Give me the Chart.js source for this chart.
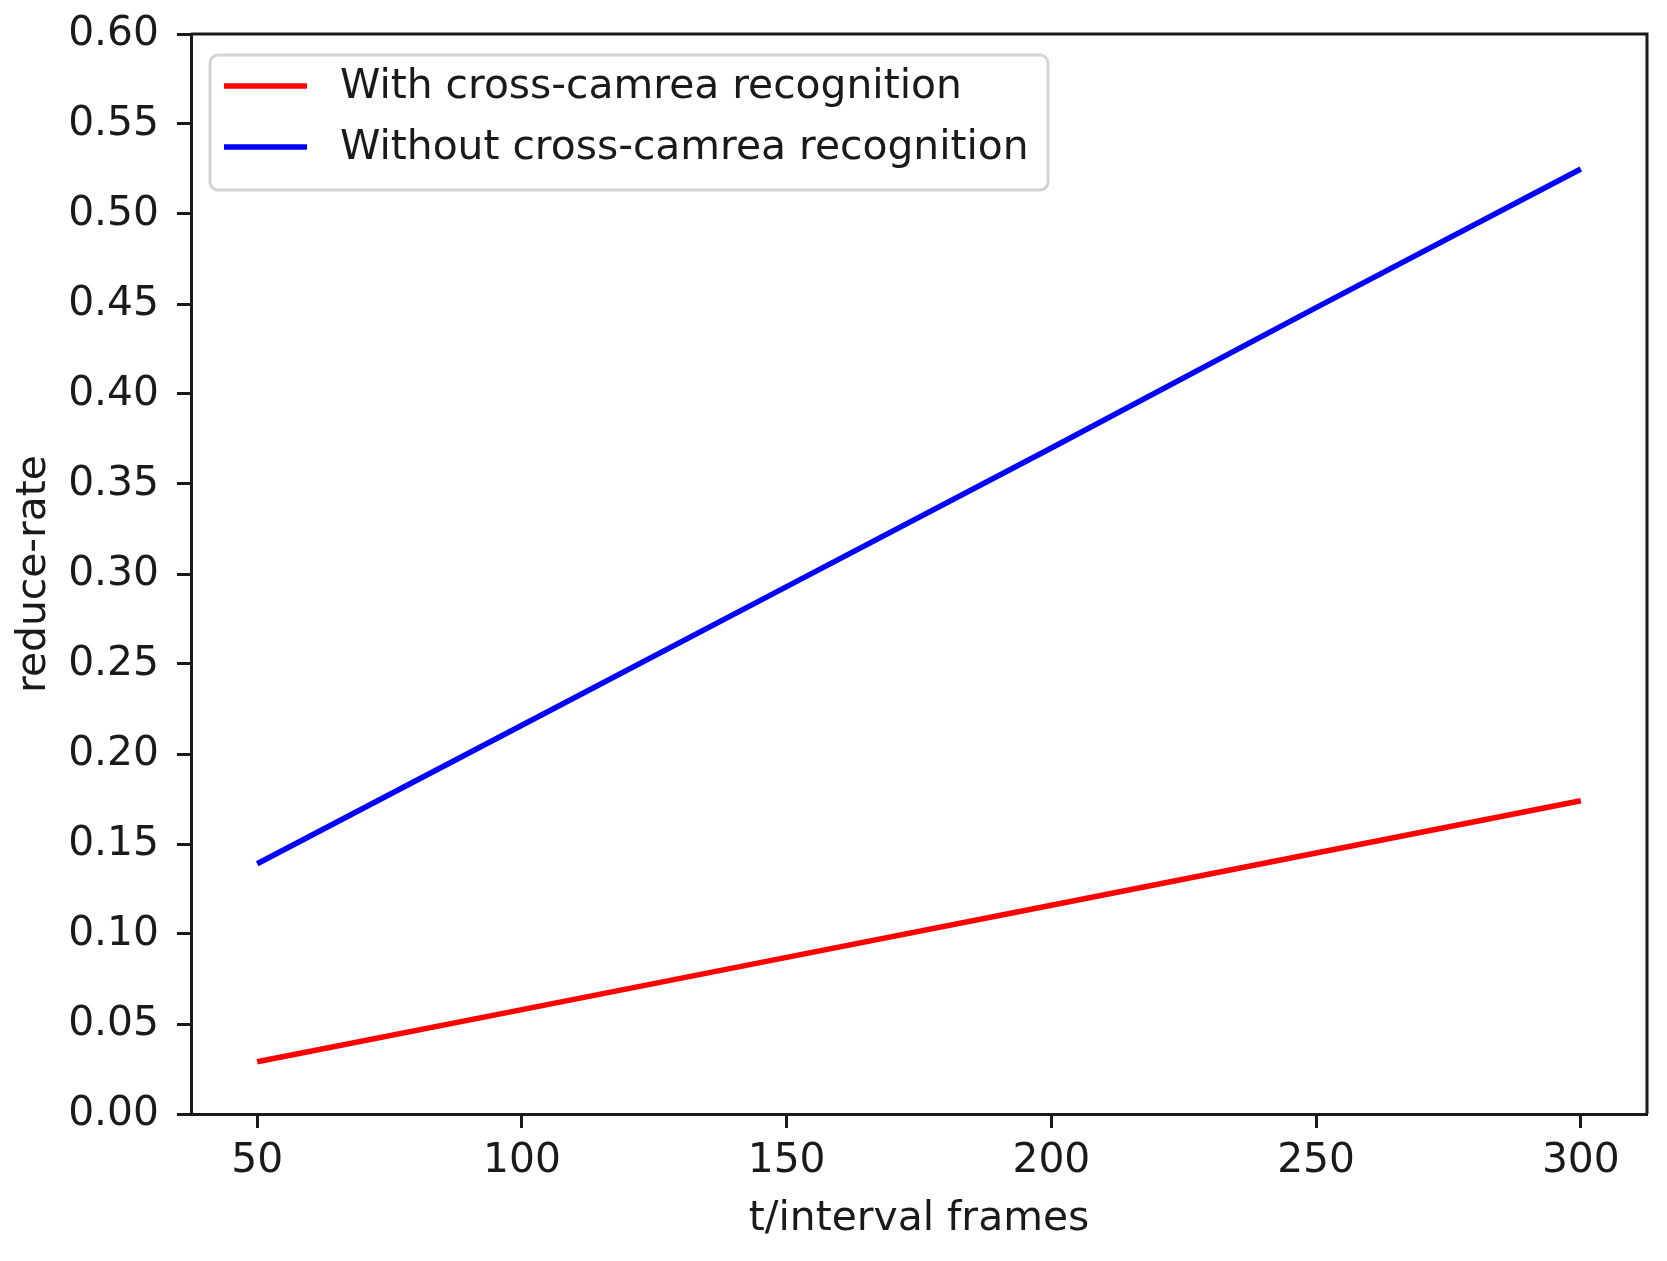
<!DOCTYPE html>
<html>
<head>
<meta charset="utf-8">
<script src="https://cdn.jsdelivr.net/npm/chart.js@4.4.1/dist/chart.umd.min.js"></script>
<style>
  html, body { margin: 0; padding: 0; background: #fff; }
  #wrap { width: 1667px; height: 1261px; }
</style>
</head>
<body>
<div id="wrap"><canvas id="chart"></canvas></div>
<script>
// valores
const frames = [50, 100, 150, 200, 250, 300]
const withCross = [0.029, 0.058, 0.087, 0.116, 0.145, 0.174]
const withoutCross = [0.139, 0.216, 0.293, 0.370, 0.448, 0.525]
const xTicks = [50, 100, 150, 200, 250, 300]
const yTicks = [0, 0.05, 0.1, 0.15, 0.2, 0.25, 0.3, 0.35, 0.4, 0.45, 0.5, 0.55, 0.6]
const seriesNames = ["With cross-camrea recognition", "Without cross-camrea recognition"]

const FONT = "'DejaVu Sans', sans-serif"
const INK = "#1a1a1a"

// top + right spines, like matplotlib's closed box
const frameBox = {
  id: "frameBox",
  afterDatasetsDraw(chart) {
    const { ctx, chartArea: a } = chart
    ctx.save()
    ctx.strokeStyle = INK
    ctx.lineWidth = 3
    ctx.beginPath()
    ctx.moveTo(a.left, a.top)
    ctx.lineTo(a.right, a.top)
    ctx.lineTo(a.right, a.bottom)
    ctx.stroke()
    ctx.restore()
  },
}

// legend inside the plot, upper left
const legendBox = {
  id: "legendBox",
  afterDraw(chart) {
    const { ctx, chartArea: a } = chart
    const x = a.left + 19
    const y = a.top + 21
    ctx.save()
    ctx.beginPath()
    ctx.roundRect(x, y, 838, 135, 8)
    ctx.fillStyle = "rgba(255,255,255,0.8)"
    ctx.fill()
    ctx.strokeStyle = "#d4d4d4"
    ctx.lineWidth = 3
    ctx.stroke()
    chart.data.datasets.forEach((ds, i) => {
      const cy = y + 31 + i * 61
      ctx.strokeStyle = ds.borderColor
      ctx.lineWidth = ds.borderWidth
      ctx.beginPath()
      ctx.moveTo(x + 14, cy)
      ctx.lineTo(x + 97, cy)
      ctx.stroke()
      ctx.fillStyle = INK
      ctx.font = `40.8px ${FONT}`
      ctx.textBaseline = "middle"
      ctx.textAlign = "left"
      ctx.fillText(ds.label, x + 130, cy + 1)
    })
    ctx.restore()
  },
}

const ctx = document.getElementById("chart").getContext("2d")

new Chart(ctx, {
  type: "line",
  data: {
    datasets: [
      {
        label: seriesNames[0],
        data: frames.map((f, i) => ({ x: f, y: withCross[i] })),
        borderColor: "#ff0000",
        borderWidth: 5.5,
        pointRadius: 0,
        tension: 0,
      },
      {
        label: seriesNames[1],
        data: frames.map((f, i) => ({ x: f, y: withoutCross[i] })),
        borderColor: "#0000ff",
        borderWidth: 5.5,
        pointRadius: 0,
        tension: 0,
      },
    ],
  },
  options: {
    responsive: true,
    maintainAspectRatio: false,
    animation: false,
    layout: { padding: { left: 0, right: 20, top: 34, bottom: 0 } },
    plugins: {
      legend: { display: false },
      tooltip: { enabled: false },
    },
    scales: {
      x: {
        type: "linear",
        min: 37.5,
        max: 312.5,
        afterBuildTicks: (axis) => {
          axis.ticks = xTicks.map((v) => ({ value: v }))
        },
        afterFit: (axis) => {
          axis.height = 147
          axis.paddingLeft = 0
          axis.paddingRight = 0
        },
        ticks: {
          color: INK,
          font: { family: FONT, size: 40.8 },
          padding: 9,
          maxRotation: 0,
          autoSkip: false,
        },
        grid: {
          drawOnChartArea: false,
          drawTicks: true,
          tickLength: 14,
          tickWidth: 3,
          tickColor: INK,
        },
        border: { display: true, color: INK, width: 3 },
        title: {
          display: true,
          text: "t/interval frames",
          color: INK,
          font: { family: FONT, size: 40.8 },
          padding: { top: 0, bottom: 17 },
        },
      },
      y: {
        type: "linear",
        min: 0,
        max: 0.6,
        afterBuildTicks: (axis) => {
          axis.ticks = yTicks.map((v) => ({ value: v }))
        },
        afterFit: (axis) => {
          axis.width = 191
          axis.paddingTop = 0
          axis.paddingBottom = 0
        },
        ticks: {
          color: INK,
          font: { family: FONT, size: 40.8 },
          padding: 18,
          callback: (v) => Number(v).toFixed(2),
        },
        grid: {
          drawOnChartArea: false,
          drawTicks: true,
          tickLength: 14,
          tickWidth: 3,
          tickColor: INK,
        },
        border: { display: true, color: INK, width: 3 },
        title: {
          display: true,
          text: "reduce-rate",
          color: INK,
          font: { family: FONT, size: 40.8 },
          padding: { top: 10, bottom: 0 },
        },
      },
    },
  },
  plugins: [frameBox, legendBox],
})
</script>
</body>
</html>
